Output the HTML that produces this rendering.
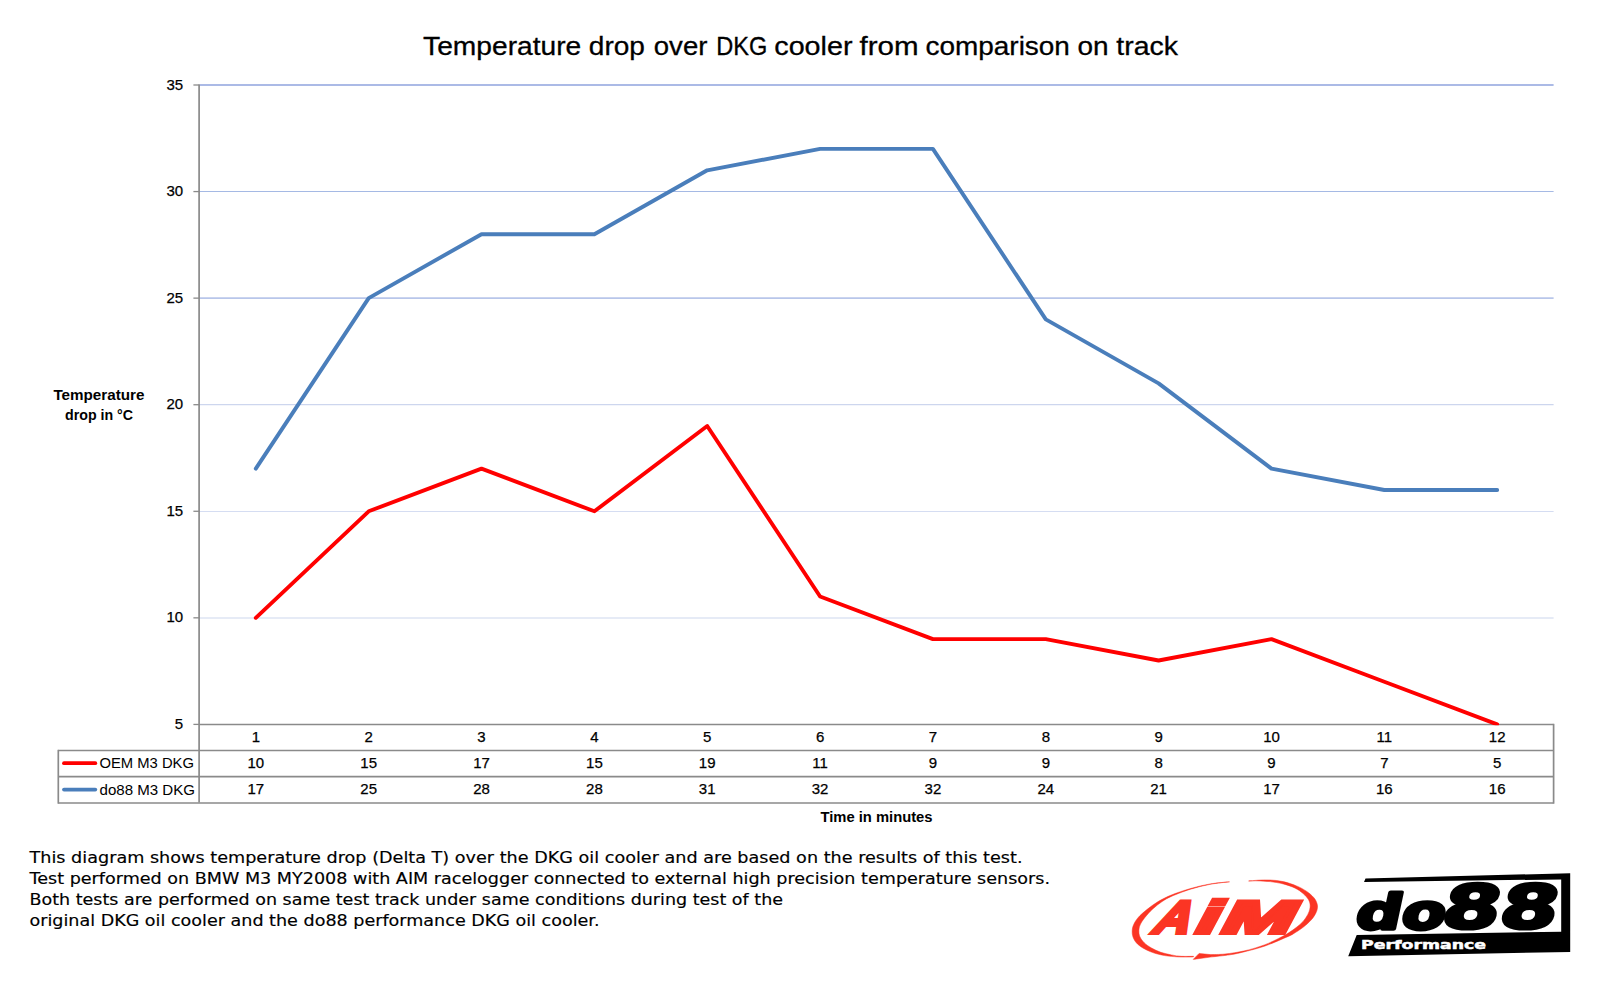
<!DOCTYPE html>
<html lang="en"><head><meta charset="utf-8">
<title>Temperature drop over DKG cooler from comparison on track</title>
<style>
html,body{margin:0;padding:0;background:#fff;}
body{width:1600px;height:981px;overflow:hidden;position:relative;font-family:"Liberation Sans",sans-serif;}
svg{position:absolute;left:0;top:0;display:block;}
text{font-family:"Liberation Sans",sans-serif;fill:#000;}
.num{font-size:15.0px;text-anchor:middle;stroke:#000;stroke-width:.25px;}
.ylab{font-size:15.0px;text-anchor:end;stroke:#000;stroke-width:.25px;}
.b{font-weight:bold;font-size:13.8px;}
.para{font-family:"DejaVu Sans",sans-serif;font-size:15.4px;fill:#000;stroke:#000;stroke-width:.15px;}
</style></head><body>
<svg width="1600" height="981" viewBox="0 0 1600 981">
<rect width="1600" height="981" fill="#fff"/>
<defs><clipPath id="plot"><rect x="199" y="80" width="1356" height="645.3"/></clipPath></defs>

<text id="title" y="55" font-size="26.3" stroke="#000" stroke-width=".3"><tspan x="423.1" textLength="158.2" lengthAdjust="spacingAndGlyphs">Temperature</tspan> <tspan x="588.8" textLength="56.1" lengthAdjust="spacingAndGlyphs">drop</tspan> <tspan x="653.8" textLength="53.6" lengthAdjust="spacingAndGlyphs">over</tspan> <tspan x="716.3" textLength="51.1" lengthAdjust="spacingAndGlyphs">DKG</tspan> <tspan x="774.3" textLength="78.2" lengthAdjust="spacingAndGlyphs">cooler</tspan> <tspan x="859.5" textLength="59.1" lengthAdjust="spacingAndGlyphs">from</tspan> <tspan x="925.5" textLength="144.4" lengthAdjust="spacingAndGlyphs">comparison</tspan> <tspan x="1077.5" textLength="31.1" lengthAdjust="spacingAndGlyphs">on</tspan> <tspan x="1116.3" textLength="61.6" lengthAdjust="spacingAndGlyphs">track</tspan></text>
<line x1="199.4" y1="85.00" x2="1553.6" y2="85.00" stroke="#abbae6" stroke-width="2.0"/>
<line x1="199.4" y1="191.50" x2="1553.6" y2="191.50" stroke="#a5b9e4" stroke-width="1.05"/>
<line x1="199.4" y1="298.15" x2="1553.6" y2="298.15" stroke="#b8c6ea" stroke-width="1.7"/>
<line x1="199.4" y1="404.62" x2="1553.6" y2="404.62" stroke="#cdd6ee" stroke-width="1.25"/>
<line x1="199.4" y1="511.50" x2="1553.6" y2="511.50" stroke="#d5ddf2" stroke-width="1.0"/>
<line x1="199.4" y1="618.00" x2="1553.6" y2="618.00" stroke="#e6ebf6" stroke-width="2.0"/>
<line x1="193.4" y1="724.40" x2="199.4" y2="724.40" stroke="#8a8a8a" stroke-width="1.3"/>
<text class="ylab" transform="translate(183.2,728.90) scale(1.0,1)">5</text>
<line x1="193.4" y1="617.83" x2="199.4" y2="617.83" stroke="#8a8a8a" stroke-width="1.3"/>
<text class="ylab" transform="translate(183.2,622.33) scale(1.0,1)">10</text>
<line x1="193.4" y1="511.27" x2="199.4" y2="511.27" stroke="#8a8a8a" stroke-width="1.3"/>
<text class="ylab" transform="translate(183.2,515.77) scale(1.0,1)">15</text>
<line x1="193.4" y1="404.70" x2="199.4" y2="404.70" stroke="#8a8a8a" stroke-width="1.3"/>
<text class="ylab" transform="translate(183.2,409.20) scale(1.0,1)">20</text>
<line x1="193.4" y1="298.13" x2="199.4" y2="298.13" stroke="#8a8a8a" stroke-width="1.3"/>
<text class="ylab" transform="translate(183.2,302.63) scale(1.0,1)">25</text>
<line x1="193.4" y1="191.57" x2="199.4" y2="191.57" stroke="#8a8a8a" stroke-width="1.3"/>
<text class="ylab" transform="translate(183.2,196.07) scale(1.0,1)">30</text>
<line x1="193.4" y1="85.00" x2="199.4" y2="85.00" stroke="#8a8a8a" stroke-width="1.3"/>
<text class="ylab" transform="translate(183.2,89.50) scale(1.0,1)">35</text>
<line x1="199.1" y1="84.50" x2="199.1" y2="802.60" stroke="#8a8a8a" stroke-width="1.7"/>
<line x1="199.4" y1="724.50" x2="1553.6" y2="724.50" stroke="#8a8a8a" stroke-width="1.7"/>
<line x1="58.3" y1="750.50" x2="1553.6" y2="750.50" stroke="#8a8a8a" stroke-width="1.7"/>
<line x1="58.3" y1="776.60" x2="1553.6" y2="776.60" stroke="#8a8a8a" stroke-width="1.7"/>
<line x1="58.3" y1="803.00" x2="1553.6" y2="803.00" stroke="#8a8a8a" stroke-width="1.7"/>
<line x1="58.3" y1="749.80" x2="58.3" y2="803.70" stroke="#8a8a8a" stroke-width="1.7"/>
<line x1="1553.6" y1="723.80" x2="1553.6" y2="803.70" stroke="#8a8a8a" stroke-width="1.7"/>
<polyline clip-path="url(#plot)" points="255.8,468.6 368.7,298.1 481.5,234.2 594.4,234.2 707.2,170.3 820.1,148.9 932.9,148.9 1045.8,319.4 1158.6,383.4 1271.5,468.6 1384.3,490.0 1497.2,490.0" fill="none" stroke="#4a7ebb" stroke-width="3.9" stroke-linecap="round" stroke-linejoin="round"/>
<polyline clip-path="url(#plot)" points="255.8,617.8 368.7,511.3 481.5,468.6 594.4,511.3 707.2,426.0 820.1,596.5 932.9,639.1 1045.8,639.1 1158.6,660.5 1271.5,639.1 1384.3,681.8 1497.2,724.4" fill="none" stroke="#ff0000" stroke-width="3.9" stroke-linecap="round" stroke-linejoin="round"/>
<text class="num" transform="translate(255.8,742.0) scale(1.0,1)">1</text>
<text class="num" transform="translate(255.8,767.9) scale(1.0,1)">10</text>
<text class="num" transform="translate(255.8,794.2) scale(1.0,1)">17</text>
<text class="num" transform="translate(368.7,742.0) scale(1.0,1)">2</text>
<text class="num" transform="translate(368.7,767.9) scale(1.0,1)">15</text>
<text class="num" transform="translate(368.7,794.2) scale(1.0,1)">25</text>
<text class="num" transform="translate(481.5,742.0) scale(1.0,1)">3</text>
<text class="num" transform="translate(481.5,767.9) scale(1.0,1)">17</text>
<text class="num" transform="translate(481.5,794.2) scale(1.0,1)">28</text>
<text class="num" transform="translate(594.4,742.0) scale(1.0,1)">4</text>
<text class="num" transform="translate(594.4,767.9) scale(1.0,1)">15</text>
<text class="num" transform="translate(594.4,794.2) scale(1.0,1)">28</text>
<text class="num" transform="translate(707.2,742.0) scale(1.0,1)">5</text>
<text class="num" transform="translate(707.2,767.9) scale(1.0,1)">19</text>
<text class="num" transform="translate(707.2,794.2) scale(1.0,1)">31</text>
<text class="num" transform="translate(820.1,742.0) scale(1.0,1)">6</text>
<text class="num" transform="translate(820.1,767.9) scale(1.0,1)">11</text>
<text class="num" transform="translate(820.1,794.2) scale(1.0,1)">32</text>
<text class="num" transform="translate(932.9,742.0) scale(1.0,1)">7</text>
<text class="num" transform="translate(932.9,767.9) scale(1.0,1)">9</text>
<text class="num" transform="translate(932.9,794.2) scale(1.0,1)">32</text>
<text class="num" transform="translate(1045.8,742.0) scale(1.0,1)">8</text>
<text class="num" transform="translate(1045.8,767.9) scale(1.0,1)">9</text>
<text class="num" transform="translate(1045.8,794.2) scale(1.0,1)">24</text>
<text class="num" transform="translate(1158.6,742.0) scale(1.0,1)">9</text>
<text class="num" transform="translate(1158.6,767.9) scale(1.0,1)">8</text>
<text class="num" transform="translate(1158.6,794.2) scale(1.0,1)">21</text>
<text class="num" transform="translate(1271.5,742.0) scale(1.0,1)">10</text>
<text class="num" transform="translate(1271.5,767.9) scale(1.0,1)">9</text>
<text class="num" transform="translate(1271.5,794.2) scale(1.0,1)">17</text>
<text class="num" transform="translate(1384.3,742.0) scale(1.0,1)">11</text>
<text class="num" transform="translate(1384.3,767.9) scale(1.0,1)">7</text>
<text class="num" transform="translate(1384.3,794.2) scale(1.0,1)">16</text>
<text class="num" transform="translate(1497.2,742.0) scale(1.0,1)">12</text>
<text class="num" transform="translate(1497.2,767.9) scale(1.0,1)">5</text>
<text class="num" transform="translate(1497.2,794.2) scale(1.0,1)">16</text>
<line x1="64" y1="763.2" x2="95.3" y2="763.2" stroke="#ff0000" stroke-width="3.8" stroke-linecap="round"/>
<line x1="64" y1="789.6" x2="95.3" y2="789.6" stroke="#4a7ebb" stroke-width="3.8" stroke-linecap="round"/>
<text id="leg1" x="99.5" y="768.4" font-size="14.9" textLength="94.5" lengthAdjust="spacingAndGlyphs">OEM M3 DKG</text>
<text id="leg2" x="99.5" y="794.6" font-size="14.9" textLength="95.5" lengthAdjust="spacingAndGlyphs">do88 M3 DKG</text>
<text id="yt1" class="b" x="53.4" y="400" textLength="91" lengthAdjust="spacingAndGlyphs">Temperature</text>
<text id="yt2" class="b" x="65" y="420.3" textLength="68" lengthAdjust="spacingAndGlyphs">drop in °C</text>
<text id="xt" class="b" x="820.5" y="821.5" textLength="112" lengthAdjust="spacingAndGlyphs">Time in minutes</text>
<text id="p0" class="para" x="29.5" y="862.5" textLength="993.0" lengthAdjust="spacingAndGlyphs">This diagram shows temperature drop (Delta T) over the DKG oil cooler and are based on the results of this test.</text>
<text id="p1" class="para" x="29.5" y="883.6" textLength="1020.5" lengthAdjust="spacingAndGlyphs">Test performed on BMW M3 MY2008 with AIM racelogger connected to external high precision temperature sensors.</text>
<text id="p2" class="para" x="29.5" y="904.6" textLength="753.5" lengthAdjust="spacingAndGlyphs">Both tests are performed on same test track under same conditions during test of the</text>
<text id="p3" class="para" x="29.5" y="925.6" textLength="570.0" lengthAdjust="spacingAndGlyphs">original DKG oil cooler and the do88 performance DKG oil cooler.</text>
<g id="aim">
<path fill="#fb3524" stroke="#fb3524" stroke-width=".5" d="M1229.5 881.8C1226.3 882.1 1216.8 882.8 1210.3 883.9C1203.8 885.0 1197.1 886.6 1190.6 888.5C1184.1 890.4 1176.8 892.8 1171.4 895.0C1166.0 897.2 1162.2 899.2 1158.1 901.6C1154.0 904.0 1150.2 907.0 1146.9 909.6C1143.6 912.2 1140.4 915.0 1138.2 917.5C1136.0 920.0 1134.6 922.6 1133.6 924.8C1132.6 927.0 1132.3 928.8 1132.2 930.8C1132.1 932.8 1132.2 934.7 1132.9 936.7C1133.6 938.7 1134.6 940.8 1136.3 942.7C1138.0 944.6 1140.2 946.4 1142.9 948.0C1145.7 949.6 1149.2 951.3 1152.8 952.6C1156.4 953.9 1160.5 954.9 1164.7 955.6C1168.9 956.3 1173.7 956.7 1178.0 956.9C1182.3 957.1 1188.0 957.0 1190.6 957.0C1193.2 957.0 1193.1 956.8 1193.6 956.7L1193.6 956.3C1191.5 956.3 1185.0 956.5 1181.3 956.3C1177.6 956.1 1174.8 955.6 1171.4 954.9C1168.0 954.2 1164.1 953.4 1160.8 952.3C1157.5 951.1 1154.3 949.6 1151.5 948.0C1148.7 946.4 1146.1 944.6 1144.2 942.7C1142.3 940.8 1140.8 938.7 1139.9 936.7C1139.0 934.7 1138.9 932.8 1138.9 930.8C1139.0 928.8 1139.2 927.0 1140.2 924.8C1141.2 922.6 1142.8 920.1 1144.9 917.5C1147.0 914.9 1149.9 911.5 1152.8 908.9C1155.7 906.2 1159.0 903.7 1162.1 901.6C1165.2 899.5 1166.7 898.5 1171.4 896.4C1176.2 894.3 1184.1 891.2 1190.6 889.2C1197.1 887.2 1203.8 885.5 1210.3 884.3C1216.8 883.1 1226.3 882.2 1229.5 881.8ZM1248.6 881.0C1250.2 880.9 1254.4 880.4 1258.0 880.2C1261.6 880.0 1265.8 879.8 1270.0 880.0C1274.2 880.2 1278.8 880.6 1283.2 881.6C1287.6 882.6 1292.6 884.3 1296.5 885.9C1300.4 887.5 1303.5 889.3 1306.4 891.2C1309.3 893.1 1311.9 895.5 1313.7 897.5C1315.5 899.5 1316.4 901.7 1317.0 903.5C1317.6 905.3 1317.6 906.5 1317.4 908.1C1317.2 909.8 1316.8 911.4 1315.7 913.4C1314.7 915.4 1313.2 917.7 1311.1 920.0C1309.0 922.3 1306.1 925.0 1303.1 927.3C1300.1 929.6 1296.5 932.0 1293.2 933.9C1290.0 935.8 1288.4 936.3 1283.6 938.4C1278.8 940.5 1270.9 944.0 1264.4 946.2C1257.9 948.4 1250.4 950.3 1244.7 951.7C1239.0 953.1 1235.7 953.9 1230.0 954.8C1224.3 955.7 1213.6 956.7 1210.3 957.1L1193.2 959.4L1199.1 953.4L1210.3 954.6C1212.8 954.5 1219.3 954.6 1225.0 954.0C1230.7 953.4 1238.1 952.3 1244.7 950.8C1251.3 949.3 1258.8 947.0 1264.4 944.9C1270.1 942.8 1274.7 940.3 1278.6 938.4C1282.5 936.5 1284.9 935.1 1287.9 933.3C1290.9 931.4 1294.0 929.3 1296.5 927.3C1299.0 925.3 1301.2 923.5 1303.1 921.4C1305.0 919.3 1306.6 916.7 1307.7 914.7C1308.8 912.7 1309.3 911.0 1309.7 909.4C1310.1 907.8 1310.3 906.4 1310.1 904.8C1309.9 903.1 1309.6 901.4 1308.4 899.5C1307.2 897.6 1305.3 895.4 1303.1 893.5C1300.9 891.6 1298.5 889.8 1295.2 888.2C1291.9 886.6 1287.4 885.0 1283.2 883.9C1279.0 882.8 1274.2 882.1 1270.0 881.6C1265.8 881.1 1261.6 881.0 1258.0 880.9C1254.4 880.8 1250.2 881.0 1248.6 881.0Z"/>
<text id="aimtxt" transform="translate(0,933.2) skewX(-28)" font-size="46" font-weight="bold" style="fill:#fb3524;stroke:#fb3524;stroke-width:4px;stroke-linejoin:miter"><tspan x="1150" textLength="36" lengthAdjust="spacingAndGlyphs">A</tspan><tspan x="1191.2" textLength="22" lengthAdjust="spacingAndGlyphs">i</tspan><tspan x="1217.2" textLength="71" lengthAdjust="spacingAndGlyphs">M</tspan></text>
</g>
<g id="do88">
<polygon fill="#000" points="1365.5,878.5 1570.2,873.2 1570.2,952.0 1348.2,956.2 1356.7,934.9 1561.2,931.7 1561.2,879.4 1364.0,882.0"/>
<text id="do88txt" transform="translate(0,929.3) skewX(-12)" style="font-family:'DejaVu Sans',sans-serif;font-weight:bold;stroke:#000;stroke-width:3.4px;stroke-linejoin:round"><tspan x="1353.6" font-size="48.5" textLength="89.6" lengthAdjust="spacingAndGlyphs">do</tspan><tspan x="1438.8" dy="-1.3" font-size="60" textLength="115.6" lengthAdjust="spacingAndGlyphs">88</tspan></text>
<text id="perf" x="1361" y="949" font-size="12.7" textLength="125" lengthAdjust="spacingAndGlyphs" style="font-family:'DejaVu Sans',sans-serif;font-weight:bold;fill:#fff;stroke:#fff;stroke-width:.5px">Performance</text>
</g>
</svg></body></html>
